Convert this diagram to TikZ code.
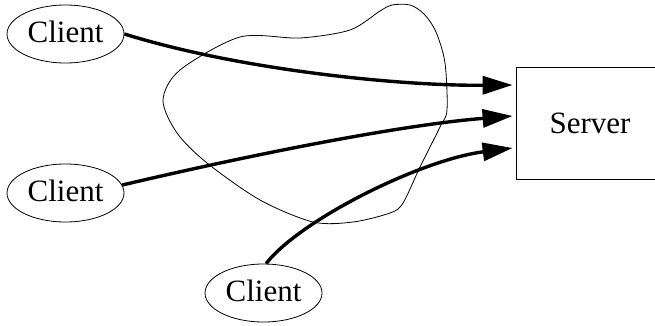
\documentclass[tikz,border=0pt]{standalone}
\usepackage{fontspec}
\setmainfont{Liberation Serif}
\usetikzlibrary{arrows.meta,shapes.geometric}
\tikzset{
  client/.style={draw, ellipse, line width=0.8pt, minimum width=117pt,
    minimum height=58pt, inner sep=0pt, text depth=4pt,
    font=\fontsize{31}{36}\selectfont},
  serverbox/.style={draw, rectangle, line width=0.8pt, minimum width=148pt,
    minimum height=112pt, inner sep=0pt, font=\fontsize{31}{36}\selectfont},
  link/.style={line width=3.4pt, -{Triangle[length=30pt,width=18pt]}},
  cloud/.style={line width=0.8pt}
}
\begin{document}
\begin{tikzpicture}[x=1pt,y=-1pt]
  \useasboundingbox (0,0) rectangle (655,326);
  \clip (0,0) rectangle (655,326);
  % network cloud
  \draw[cloud] plot[smooth cycle, tension=0.5] coordinates {
    (392,5) (410,5) (424,14) (436,32) (445,63) (447,110) (440,127) (420,167)
    (403,203) (390,213) (353,222) (313,222) (260,200) (207,163)
    (177,133) (163,100) (180,70) (240,37) (300,38) (350,30) (380,11)};
  % hosts
  \node[client] (c1) at (65.5,34) {Client};
  \node[client] (c2) at (65.5,193) {Client};
  \node[client] (c3) at (263.5,293) {Client};
  \node[serverbox] (srv) at (590,123) {Server};
  % connections
  \coordinate (t1) at ([xshift=-3pt,yshift=38pt]srv.west);
  \coordinate (t2) at ([xshift=-3pt,yshift=7pt]srv.west);
  \coordinate (t3) at ([xshift=-3pt,yshift=-25pt]srv.west);
  \draw[link] (c1.east) .. controls (240,70) and (400,86) .. (t1);
  \draw[link] (c2.8) .. controls (250,155) and (400,125) .. (t2);
  \draw[link] (c3.85) .. controls (300,220) and (420,160) .. (t3);
\end{tikzpicture}
\end{document}
